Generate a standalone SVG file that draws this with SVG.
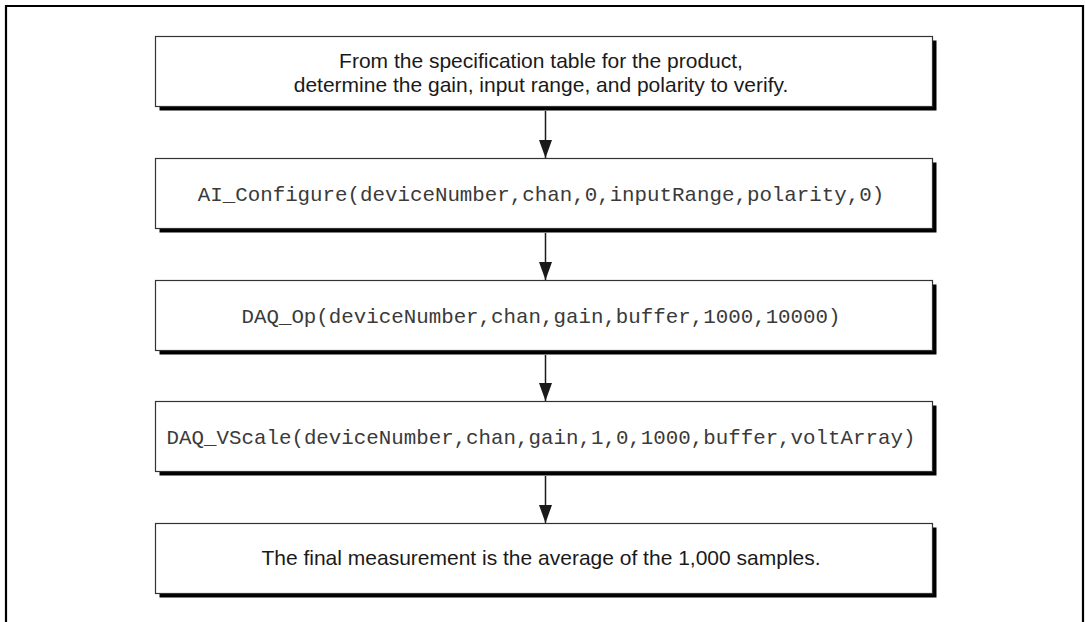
<svg xmlns="http://www.w3.org/2000/svg" width="1085" height="622" viewBox="0 0 1085 622">
<style>
.box{fill:#fff;stroke:#333;stroke-width:1.2}
.shadow{fill:#000}
.sans{font-family:"Liberation Sans",Arial,sans-serif;font-size:21px;fill:#1a1a1a;text-anchor:middle}
.mono{font-family:"Liberation Mono","Courier New",monospace;font-size:20.8px;fill:#3a3a3a;text-anchor:middle}
.conn{stroke:#1a1a1a;stroke-width:1.5;fill:none}
</style>
<defs>
<marker id="arr" markerWidth="18" markerHeight="13" refX="18" refY="6.5" orient="auto" markerUnits="userSpaceOnUse" viewBox="0 0 18 13">
<path d="M0,0 L18,6.5 L0,13 Z" fill="#1a1a1a"/>
</marker>
</defs>
<rect width="1085" height="622" fill="#fff"/>
<path d="M6,622 V6 H1083 V622" fill="none" stroke="#000" stroke-width="2.2"/>
<g id="connectors">
<path class="conn" d="M545.5,111 V158" marker-end="url(#arr)"/>
<path class="conn" d="M545.5,233 V280" marker-end="url(#arr)"/>
<path class="conn" d="M545.5,355 V401" marker-end="url(#arr)"/>
<path class="conn" d="M545.5,476 V523" marker-end="url(#arr)"/>
</g>
<g id="node1">
<rect class="shadow" x="159.5" y="40.5" width="777" height="70"/>
<rect class="box" x="155.5" y="36.5" width="777" height="70"/>
<text class="sans" x="541" y="68">From the specification table for the product,</text>
<text class="sans" x="541" y="92">determine the gain, input range, and polarity to verify.</text>
</g>
<g id="node2">
<rect class="shadow" x="159.5" y="162.5" width="777" height="70"/>
<rect class="box" x="155.5" y="158.5" width="777" height="70"/>
<text class="mono" x="541" y="200.5">AI_Configure(deviceNumber,chan,0,inputRange,polarity,0)</text>
</g>
<g id="node3">
<rect class="shadow" x="159.5" y="284.5" width="777" height="70"/>
<rect class="box" x="155.5" y="280.5" width="777" height="70"/>
<text class="mono" x="541" y="322.5">DAQ_Op(deviceNumber,chan,gain,buffer,1000,10000)</text>
</g>
<g id="node4">
<rect class="shadow" x="159.5" y="405.5" width="777" height="70"/>
<rect class="box" x="155.5" y="401.5" width="777" height="70"/>
<text class="mono" x="541" y="443.5">DAQ_VScale(deviceNumber,chan,gain,1,0,1000,buffer,voltArray)</text>
</g>
<g id="node5">
<rect class="shadow" x="159.5" y="527.5" width="777" height="70"/>
<rect class="box" x="155.5" y="523.5" width="777" height="70"/>
<text class="sans" x="541" y="565">The final measurement is the average of the 1,000 samples.</text>
</g>
</svg>
